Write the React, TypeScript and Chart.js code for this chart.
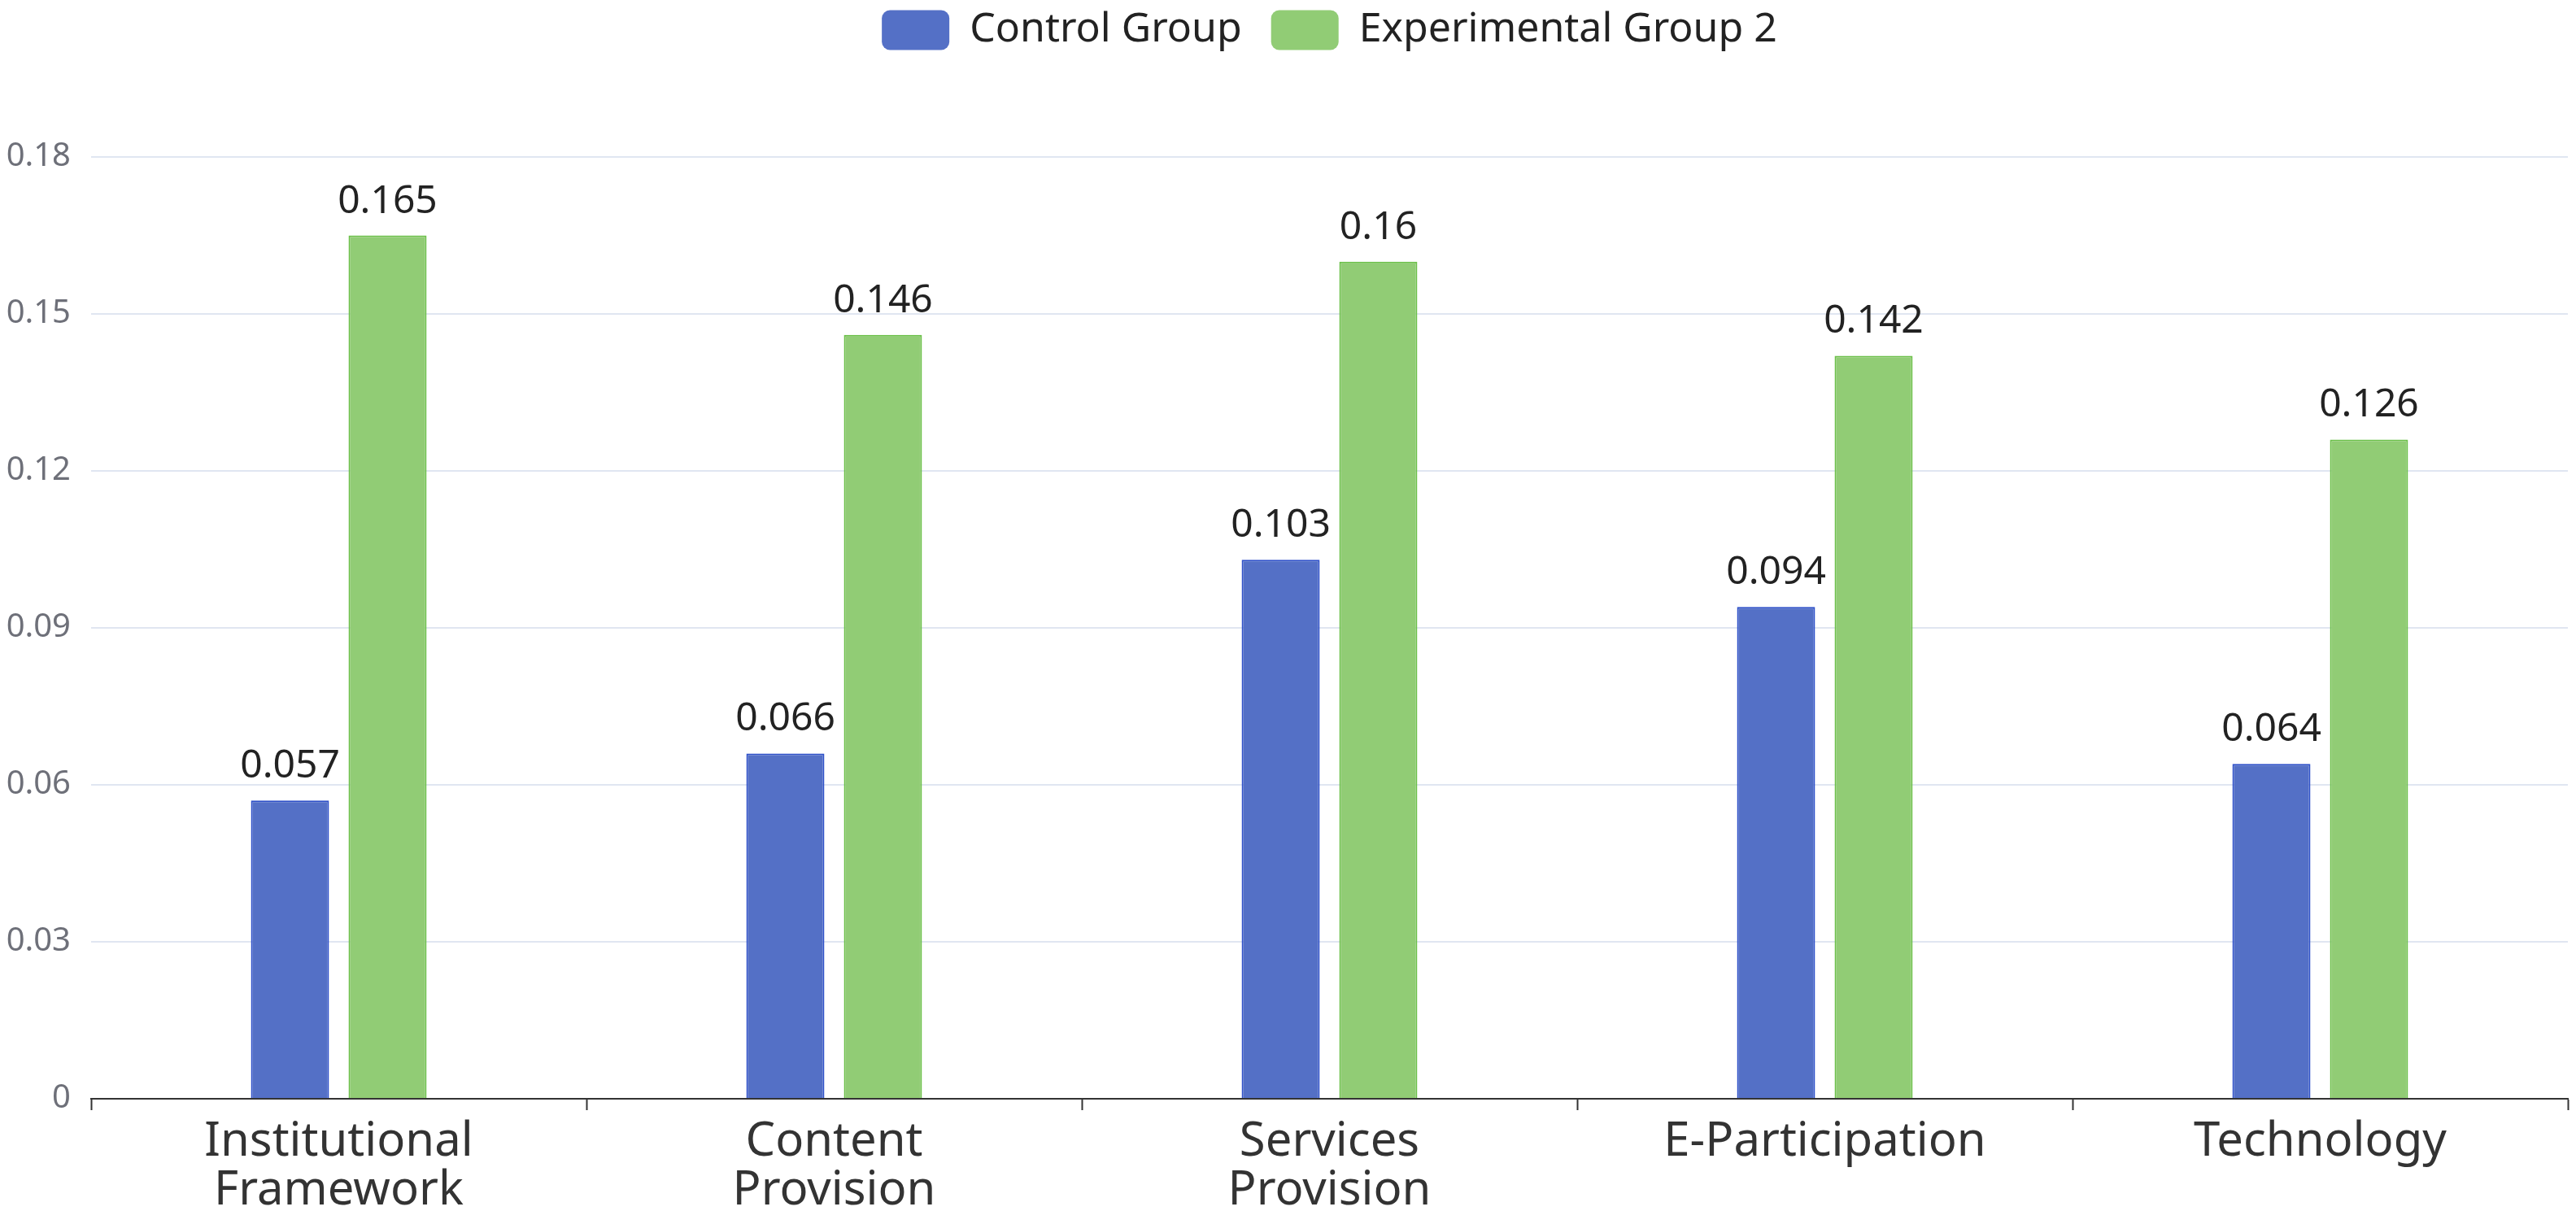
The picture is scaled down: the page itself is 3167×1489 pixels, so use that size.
import React, { useEffect, useRef } from "react";
import { Chart, registerables } from "chart.js";

Chart.register(...registerables);

const categories = [
  ["Institutional", "Framework"],
  ["Content", "Provision"],
  ["Services", "Provision"],
  "E-Participation",
  "Technology",
];
const seriesNames = ["Control Group", "Experimental Group 2"];
const controlGroup = [0.057, 0.066, 0.103, 0.094, 0.064];
const experimentalGroup2 = [0.165, 0.146, 0.16, 0.142, 0.126];
const yTickValues = [0, 0.03, 0.06, 0.09, 0.12, 0.15, 0.18];

const FONT = "'Noto Sans', 'DejaVu Sans', sans-serif";

// draws the number above each bar
const valueLabels = {
  id: "valueLabels",
  afterDatasetsDraw(chart: any) {
    const ctx = chart.ctx;
    ctx.save();
    ctx.font = `48px ${FONT}`;
    ctx.fillStyle = "#222";
    ctx.textAlign = "center";
    ctx.textBaseline = "alphabetic";
    chart.data.datasets.forEach((ds: any, i: number) => {
      chart.getDatasetMeta(i).data.forEach((bar: any, j: number) => {
        ctx.fillText(String(ds.data[j]), bar.x, bar.y - 28);
      });
    });
    ctx.restore();
  },
};

// extra room under the legend
const legendSpace = {
  id: "legendSpace",
  beforeInit(chart: any) {
    const origFit = chart.legend.fit;
    chart.legend.fit = function fit() {
      origFit.bind(chart.legend)();
      this.height += 121;
    };
  },
};

const App = () => {
  const canvasRef = useRef<HTMLCanvasElement>(null);

  useEffect(() => {
    const ctx = canvasRef.current?.getContext("2d");
    if (!ctx) return;

    const chart = new Chart(ctx, {
      type: "bar",
      data: {
        labels: categories,
        datasets: [
          {
            label: seriesNames[0],
            data: controlGroup,
            backgroundColor: "#5470c6",
            borderColor: "#2f51c9",
            borderWidth: 2,
            categoryPercentage: 0.394,
            barPercentage: 0.8,
          },
          {
            label: seriesNames[1],
            data: experimentalGroup2,
            backgroundColor: "#91cc75",
            borderColor: "#6cc04a",
            borderWidth: 2,
            categoryPercentage: 0.394,
            barPercentage: 0.8,
          },
        ],
      },
      options: {
        animation: false,
        responsive: true,
        maintainAspectRatio: false,
        layout: { padding: { top: -24, right: 10, bottom: 0, left: 0 } },
        plugins: {
          tooltip: { enabled: false },
          legend: {
            position: "top",
            fullSize: false,
            labels: {
              boxWidth: 83,
              boxHeight: 49,
              padding: 36,
              useBorderRadius: true,
              borderRadius: 10,
              color: "#222",
              font: { family: FONT, size: 50 },
              generateLabels: (chart: any) =>
                Chart.defaults.plugins.legend.labels
                  .generateLabels(chart)
                  .map((item: any) => ({ ...item, lineWidth: 0 })),
            },
          },
        },
        scales: {
          x: {
            offset: true,
            grid: {
              offset: true,
              drawOnChartArea: false,
              drawTicks: true,
              tickLength: 14,
              tickColor: "#333",
              tickWidth: 2,
            },
            border: { display: true, color: "#333", width: 2, z: 1 },
            ticks: {
              color: "#333",
              font: { family: FONT, size: 58, lineHeight: 1.04 },
              padding: 9,
              maxRotation: 0,
              autoSkip: false,
            },
            afterFit: (s: any) => {
              s.height = 138;
              s.paddingLeft = 0;
              s.paddingRight = 0;
            },
          },
          y: {
            min: 0,
            max: 0.18,
            grid: { color: "#E0E6F1", lineWidth: 2, drawTicks: false },
            border: { display: false },
            ticks: {
              color: "#6E7079",
              font: { family: FONT, size: 40 },
              padding: 25,
              callback: (v: any) => parseFloat(Number(v).toFixed(2)).toString(),
            },
            afterBuildTicks: (s: any) => {
              s.ticks = yTickValues.map((v) => ({ value: v }));
            },
            afterFit: (s: any) => {
              s.width = 112;
            },
          },
        },
      },
      plugins: [valueLabels, legendSpace],
    } as any);

    return () => chart.destroy();
  }, []);

  return (
    <div style={{ position: "fixed", left: 0, top: 0, width: 3167, height: 1489, background: "#fff" }}>
      <canvas ref={canvasRef}></canvas>
    </div>
  );
};

export default App;
